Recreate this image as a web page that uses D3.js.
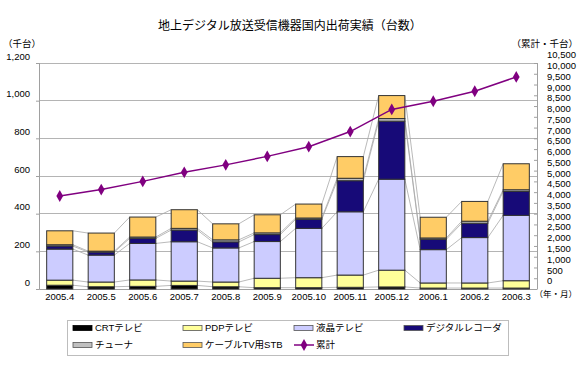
<!DOCTYPE html>
<html><head><meta charset="utf-8">
<script src="https://cdn.jsdelivr.net/npm/d3@7"></script>
<style>
body{margin:0;background:#fff;}
svg{display:block;font-family:"Liberation Sans","Noto Sans CJK JP",sans-serif;}
</style></head>
<body><svg id="c" width="580" height="381"></svg>
<script>
const months = ["2005.4","2005.5","2005.6","2005.7","2005.8","2005.9","2005.10","2005.11","2005.12","2006.1","2006.2","2006.3"];
const crt      = [20,12,14,19,12,7,7,9,11,5,5,5];
const pdp      = [27,25,34,23,25,50,53,65,89,27,27,39];
const lcd      = [165,143,194,209,181,195,262,336,483,177,241,347];
const recorder = [16,16,27,62,32,37,48,165,308,55,76,127];
const tuner    = [7,5,7,9,11,9,7,13,14,7,11,9];
const stb      = [74,96,106,99,85,96,74,115,122,110,105,138];
const cumulative = [4321,4618,5000,5421,5767,6161,6612,7315,8342,8723,9187,9853];
const seriesNames = ["CRTテレビ","PDPテレビ","液晶テレビ","デジタルレコーダ","チューナ","ケーブルTV用STB"];
const cumName = "累計";
const leftTicks = [0,200,400,600,800,1000,1200];
const rightTicks = d3.range(0,10501,500);
const colors = ["#000000","#FFFF99","#CCCCFF","#170A78","#C0C0C0","#FFCC66"];
const lineColor = "#800080";

const svg = d3.select("#c");
const L=39, R=537, T=63, B=289;
const x = d3.scaleBand().domain(months).range([L,R]).paddingInner(0.37).paddingOuter(0.185);
const yL = d3.scaleLinear().domain([0,1200]).range([B,T]);
const yR = d3.scaleLinear().domain([0,10500]).range([B,T]);

const rows = months.map((m,i)=>({m, s0:crt[i], s1:pdp[i], s2:lcd[i], s3:recorder[i], s4:tuner[i], s5:stb[i]}));
const stack = d3.stack().keys(["s0","s1","s2","s3","s4","s5"])(rows);

// title
svg.append("text").attr("x",290).attr("y",30).attr("text-anchor","middle")
  .attr("font-size",12).attr("font-family","Noto Sans CJK JP").attr("fill","#000")
  .text("地上デジタル放送受信機器国内出荷実績（台数）");
svg.append("text").attr("x",3).attr("y",47).attr("font-size",9.5).attr("font-family","Noto Sans CJK JP").text("（千台）");
svg.append("text").attr("x",578).attr("y",47).attr("text-anchor","end").attr("font-size",9.5).attr("font-family","Noto Sans CJK JP").text("（累計・千台）");

// gridlines
svg.append("g").selectAll("line").data(leftTicks).join("line")
  .attr("x1",L).attr("x2",R).attr("y1",d=>yL(d)).attr("y2",d=>yL(d))
  .attr("stroke","#b4b4b4").attr("stroke-width",1).attr("shape-rendering","crispEdges");
svg.append("line").attr("x1",L).attr("x2",L).attr("y1",T).attr("y2",B).attr("stroke","#a0a0a0").attr("shape-rendering","crispEdges");
svg.append("line").attr("x1",R).attr("x2",R).attr("y1",T).attr("y2",B).attr("stroke","#a0a0a0").attr("shape-rendering","crispEdges");

// left axis
const gl = svg.append("g").attr("transform",`translate(${L},0)`)
  .call(d3.axisLeft(yL).tickValues(leftTicks).tickFormat(d3.format(",")).tickSize(3).tickPadding(6));
gl.select(".domain").remove();
gl.selectAll(".tick line").attr("stroke","#a0a0a0");
gl.selectAll(".tick text").attr("font-size",9.5).attr("fill","#000").attr("dy","-0.4em")
  .attr("font-family","Liberation Sans");

// right axis
const gr = svg.append("g").attr("transform",`translate(${R},0)`)
  .call(d3.axisRight(yR).tickValues(rightTicks).tickFormat(d3.format(",")).tickSize(-3).tickPadding(10));
gr.select(".domain").remove();
gr.selectAll(".tick line").attr("stroke","#a0a0a0");
gr.selectAll(".tick text").attr("font-size",9.5).attr("fill","#000").attr("dy","-0.55em")
  .attr("font-family","Liberation Sans");

// x axis labels
const gx = svg.append("g").attr("transform",`translate(0,${B})`)
  .call(d3.axisBottom(x).tickSize(0).tickPadding(4));
gx.select(".domain").attr("stroke","#a0a0a0");
gx.selectAll(".tick text").attr("font-size",9.5).attr("fill","#000").attr("font-family","Liberation Sans");
svg.append("text").attr("x",577).attr("y",297).attr("text-anchor","end").attr("font-size",8.5)
  .attr("font-family","Noto Sans CJK JP").text("（年・月）");

// series lines
const bw = x.bandwidth();
const sl = svg.append("g");
stack.forEach(layer=>{
  for(let i=0;i<months.length-1;i++){
    sl.append("line")
      .attr("x1",x(months[i])+bw).attr("y1",yL(layer[i][1]))
      .attr("x2",x(months[i+1])).attr("y2",yL(layer[i+1][1]))
      .attr("stroke","#a8a8a8").attr("stroke-width",0.8);
  }
});

// bars
svg.append("g").selectAll("g").data(stack).join("g")
  .attr("fill",(d,i)=>colors[i])
  .selectAll("rect").data(d=>d).join("rect")
  .attr("x",d=>x(d.data.m)).attr("width",bw)
  .attr("y",d=>yL(d[1])).attr("height",d=>yL(d[0])-yL(d[1]))
  .attr("stroke","#333").attr("stroke-width",1);

// cumulative line
const cx = (d,i)=>x(months[i])+bw/2;
svg.append("path").datum(cumulative)
  .attr("d",d3.line().x(cx).y(d=>yR(d)))
  .attr("fill","none").attr("stroke",lineColor).attr("stroke-width",1.5);
svg.append("g").selectAll("path").data(cumulative).join("path")
  .attr("transform",(d,i)=>`translate(${cx(d,i)},${yR(d)})`)
  .attr("d",d3.symbol(d3.symbolDiamond,40)).attr("fill",lineColor);

// legend
const lg = svg.append("g");
lg.append("rect").attr("x",67.5).attr("y",320.5).attr("width",441).attr("height",35)
  .attr("fill","#fff").attr("stroke","#bdbdbd");
const colX = [73,183,294,404];
const rowY = [328,345];
const items = seriesNames.map((n,i)=>({n, c:colors[i], type:"rect"})).concat([{n:cumName,c:lineColor,type:"line"}]);
items.forEach((it,i)=>{
  const cx0 = colX[i%4], cy0 = rowY[Math.floor(i/4)];
  if(it.type==="rect"){
    lg.append("rect").attr("x",cx0).attr("y",cy0-2.5).attr("width",19).attr("height",5)
      .attr("fill",it.c).attr("stroke",i===0?"#000":"#555").attr("stroke-width",0.8);
  } else {
    lg.append("line").attr("x1",cx0).attr("x2",cx0+20).attr("y1",cy0).attr("y2",cy0).attr("stroke",it.c).attr("stroke-width",1.5);
    lg.append("path").attr("transform",`translate(${cx0+10},${cy0})`).attr("d",d3.symbol(d3.symbolDiamond,40)).attr("fill",it.c);
  }
  lg.append("text").attr("x",cx0+22).attr("y",cy0).attr("dy","0.35em").attr("font-size",9.5)
    .attr("font-family","Liberation Sans, Noto Sans CJK JP").text(it.n);
});
</script></body></html>
